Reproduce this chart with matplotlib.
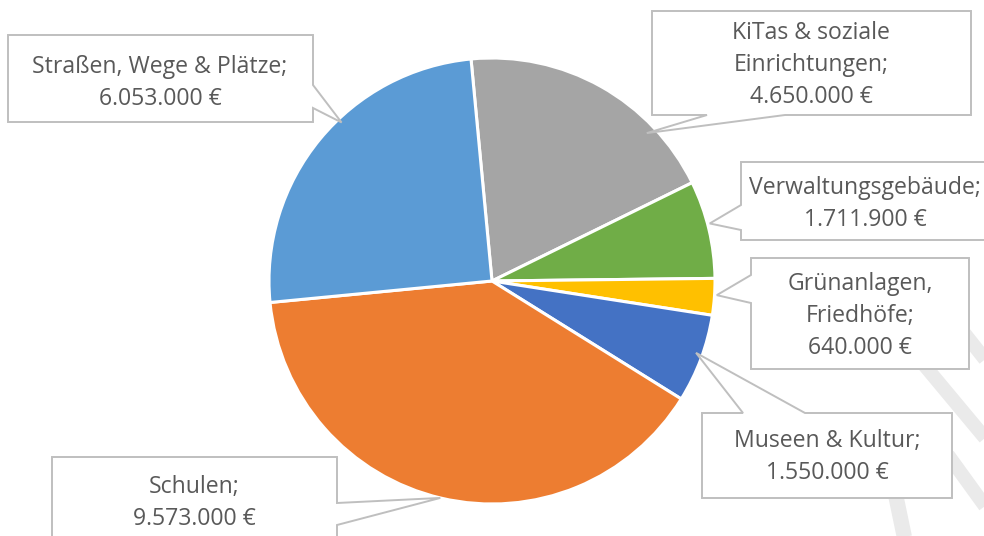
import matplotlib
matplotlib.use("Agg")
import matplotlib.pyplot as plt
import numpy as np
from matplotlib.patches import Polygon

# ---- data (clockwise from the top) ----
categories = ["KiTas & soziale\nEinrichtungen", "Verwaltungsgebäude", "Grünanlagen,\nFriedhöfe",
              "Museen & Kultur", "Schulen", "Straßen, Wege & Plätze"]
values = [4650000, 1711900, 640000, 1550000, 9573000, 6053000]
colors = ["#A5A5A5", "#70AD47", "#FFC000", "#4472C4", "#ED7D31", "#5B9BD5"]


def fmt(v):
    return f"{v:,}".replace(",", ".") + " €"


W, H = 984, 536
CX, CY_IMG, R = 492, 281, 223

fig = plt.figure(figsize=(W / 100, H / 100), dpi=100)
ax = fig.add_axes([0, 0, 1, 1])

ax.pie(values, colors=colors, startangle=95.4, counterclock=False,
       center=(CX, H - CY_IMG), radius=R,
       wedgeprops=dict(edgecolor="white", linewidth=2.2, antialiased=True))
ax.set_xlim(0, W)
ax.set_ylim(0, H)
ax.set_aspect("equal")
ax.axis("off")

# faint watermark strokes (bottom right)
wm = "#EAEAEA"
for (x0, y0, x1, y1, lw) in [(938, 300, 995, 372, 10), (920, 360, 995, 450, 10),
                             (880, 420, 905, 540, 11), (948, 455, 995, 520, 10)]:
    ax.plot([x0, x1], [H - y0, H - y1], color=wm, lw=lw, solid_capstyle="butt", zorder=1)

# callout layout: box (x0, y0, x1, y1) in image px, side of pointer, pointer base, tip angle/radius
layout = [
    dict(box=(652, 11, 971, 115), side="bottom", base=(707, 785), ang=43.7, rf=0.96, tc=(811, 65)),
    dict(box=(741, 162, 989, 240), side="left", base=(205, 230), ang=14.8, rf=1.01, tc=(865, 204)),
    dict(box=(751, 258, 969, 369), side="left", base=(275, 303), ang=-3.6, rf=1.01, tc=(860, 316)),
    dict(box=(702, 413, 952, 498), side="top", base=(743, 805), ang=-19.4, rf=0.97, tc=(827, 457)),
    dict(box=(52, 457, 337, 549), side="right", base=(503, 525), ang=256.6, rf=1.0, tc=(194, 503)),
    dict(box=(8, 35, 313, 122), side="right", base=(85, 108), ang=133.5, rf=0.98, tc=(160, 83)),
]

for cat, val, lay in zip(categories, values, layout):
    x0, y0, x1, y1 = lay["box"]
    a, b = lay["base"]
    ang = np.deg2rad(lay["ang"])
    tx = CX + lay["rf"] * R * np.cos(ang)
    ty = CY_IMG - lay["rf"] * R * np.sin(ang)
    tip = (tx, ty)
    side = lay["side"]
    pts = [(x0, y0)]
    if side == "top":
        pts += [(a, y0), tip, (b, y0)]
    pts += [(x1, y0)]
    if side == "right":
        pts += [(x1, a), tip, (x1, b)]
    pts += [(x1, y1)]
    if side == "bottom":
        pts += [(b, y1), tip, (a, y1)]
    pts += [(x0, y1)]
    if side == "left":
        pts += [(x0, b), tip, (x0, a)]
    pts_up = [(px, H - py) for px, py in pts]
    ax.add_patch(Polygon(pts_up, closed=True, facecolor="white", edgecolor="#BFBFBF",
                         linewidth=1.4, zorder=5, joinstyle="miter"))
    ax.text(lay["tc"][0], H - lay["tc"][1], f"{cat};\n{fmt(val)}", ha="center", va="center",
            multialignment="center", fontsize=16.6, family=["Open Sans", "DejaVu Sans"],
            color="#595959", linespacing=1.42, zorder=6)

fig.savefig("out.png", dpi=100, facecolor="white")
